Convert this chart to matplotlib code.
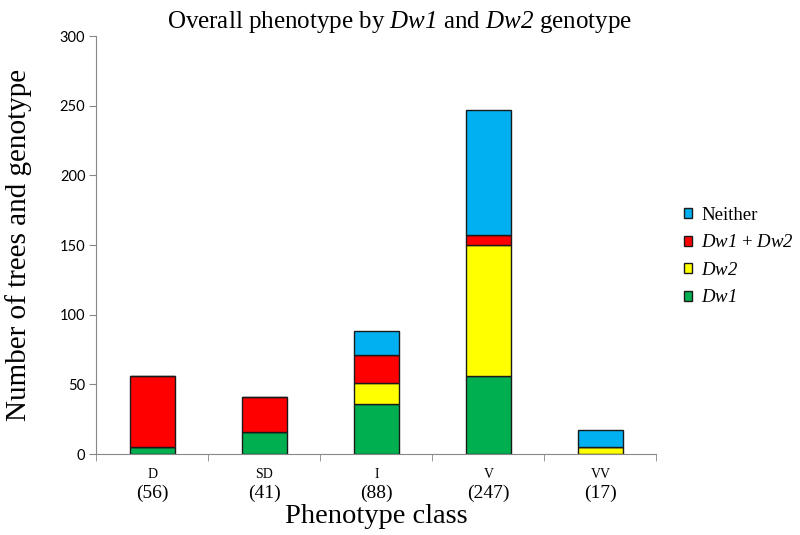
import matplotlib
matplotlib.use("Agg")
import matplotlib.pyplot as plt
import numpy as np

plt.rcParams['mathtext.fontset'] = 'custom'
plt.rcParams['mathtext.rm'] = 'Liberation Serif:italic'
plt.rcParams['mathtext.it'] = 'Liberation Serif:italic'

categories = ["D", "SD", "I", "V", "VV"]
totals = [56, 41, 88, 247, 17]
dw1 = [5, 16, 36, 56, 0]
dw2 = [0, 0, 15, 94, 5]
both = [51, 25, 20, 7, 0]
neither = [0, 0, 17, 90, 12]

series = [("$\\mathit{Dw1}$", dw1, "#00b050"),
          ("$\\mathit{Dw2}$", dw2, "#ffff00"),
          ("$\\mathit{Dw1}$ + $\\mathit{Dw2}$", both, "#ff0000"),
          ("Neither", neither, "#00b0f0")]

fig = plt.figure(figsize=(8, 5.35), dpi=100)
ax = fig.add_axes([0.1206, 0.1514, 0.70, 0.7813])
x = np.arange(len(categories))
bottom = np.zeros(len(categories))
handles = []
for label, vals, col in series:
    v = np.array(vals, dtype=float)
    b = ax.bar(x, v, 0.4, bottom=bottom, color=col, edgecolor="#1a1a1a", linewidth=1.0, label=label)
    handles.append(b)
    bottom += v

ax.set_xlim(-0.5, len(categories) - 0.5)
ax.set_ylim(0, 300)
ax.set_yticks(range(0, 301, 50))
ax.set_xticks(x)
ax.set_xticklabels([])
ax.set_xticks(np.arange(-0.5, len(categories)), minor=True)
ax.tick_params(axis='x', which='major', length=0)
ax.tick_params(axis='x', which='minor', length=5, color="#888888", direction='out')
ax.tick_params(axis='y', length=5, color="#888888", labelsize=10.5, pad=3)
for lab in ax.get_yticklabels():
    lab.set_fontfamily("Lato")
for s in ["top", "right"]:
    ax.spines[s].set_visible(False)
for s in ["left", "bottom"]:
    ax.spines[s].set_color("#888888")

for i, (c, t) in enumerate(zip(categories, totals)):
    ax.annotate(c, xy=(i, 0), xycoords=('data', 'axes fraction'), xytext=(0, -20),
                textcoords='offset pixels', ha='center', va='center',
                fontfamily="Liberation Serif", fontsize=10)
    ax.annotate(f"({t})", xy=(i, 0), xycoords=('data', 'axes fraction'), xytext=(0, -39),
                textcoords='offset pixels', ha='center', va='center',
                fontfamily="Liberation Serif", fontsize=14)

ax.set_ylabel("Number of trees and genotype", fontfamily="Liberation Serif", fontsize=21, labelpad=20)
ax.set_xlabel("Phenotype class", fontfamily="Liberation Serif", fontsize=20.5)
ax.xaxis.set_label_coords(0.5, -0.12)
fig.suptitle("Overall phenotype by $\\mathit{Dw1}$ and $\\mathit{Dw2}$ genotype",
             fontfamily="Liberation Serif", fontsize=18, x=0.5, y=0.984)

leg = ax.legend(handles[::-1], [h.get_label() for h in handles[::-1]],
                loc="center left", bbox_to_anchor=(1.019, 0.472), frameon=False,
                prop={"family": "Liberation Serif", "size": 13.5},
                handlelength=0.45, handleheight=0.45, handletextpad=0.47, labelspacing=0.56)

fig.savefig("out.png", dpi=100)
